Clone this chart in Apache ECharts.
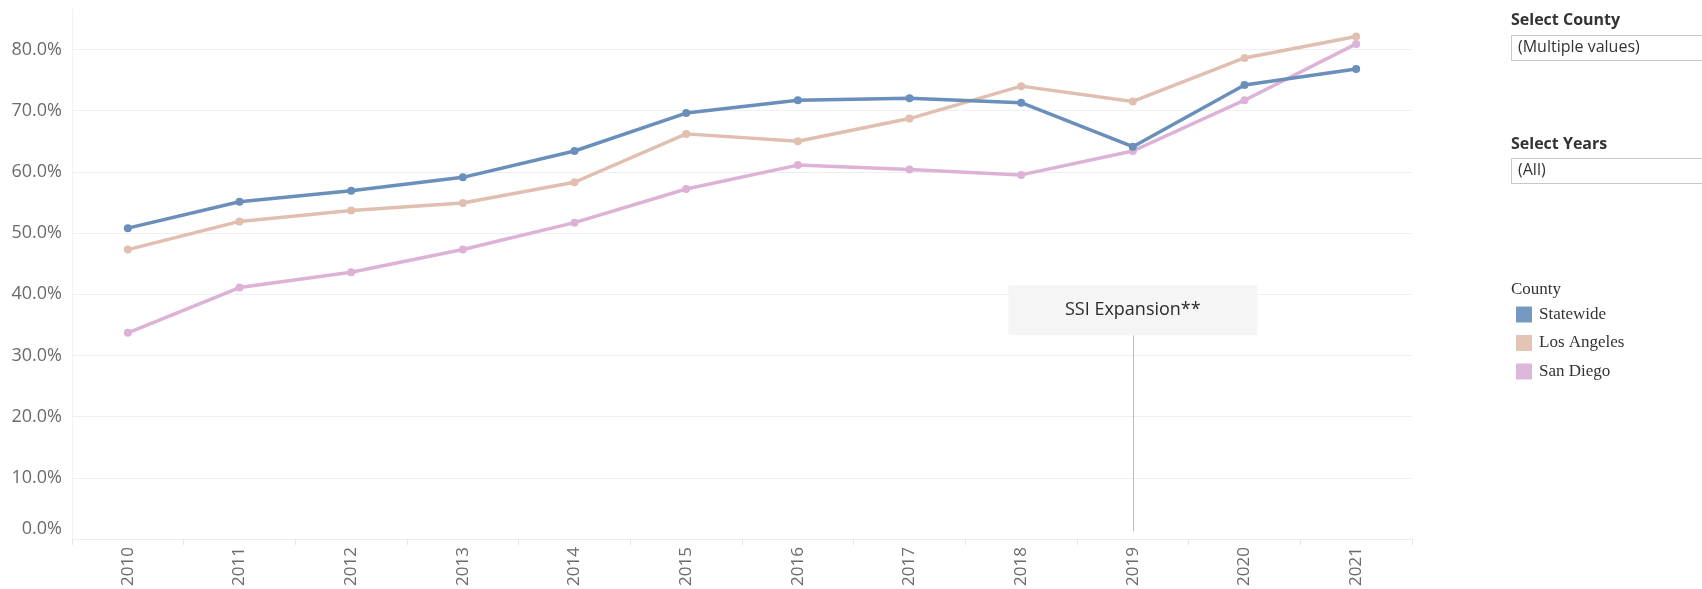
<!DOCTYPE html>
<html>
<head>
<meta charset="utf-8">
<script src="https://cdn.jsdelivr.net/npm/echarts@6/dist/echarts.min.js"></script>
<style>html,body{margin:0;padding:0;background:#fff}#c{width:1702px;height:589px}</style>
</head>
<body>
<div id="c"></div>
<script>
var years = ['2010','2011','2012','2013','2014','2015','2016','2017','2018','2019','2020','2021'];
var statewide = [50.8, 55.1, 56.9, 59.1, 63.4, 69.6, 71.7, 72.0, 71.3, 64.1, 74.2, 76.8];
var losAngeles = [47.3, 51.9, 53.7, 54.9, 58.3, 66.2, 65.0, 68.7, 74.0, 71.5, 78.6, 82.1];
var sanDiego = [33.7, 41.1, 43.6, 47.3, 51.7, 57.2, 61.1, 60.4, 59.5, 63.4, 71.7, 80.9];
var seriesNames = ['Statewide', 'Los Angeles', 'San Diego'];
var yTicks = [0, 10, 20, 30, 40, 50, 60, 70, 80];
var annotationText = 'SSI Expansion**';
var annotationYear = '2019';

var lineColors = ['#6a8fbb', '#e0bfb0', '#dcb2d6'];
var legendColors = ['#7599c0', '#e3c5b6', '#dcb8da'];
var sansFont = '"Open Sans", "Noto Sans", sans-serif';
var serifFont = '"Liberation Serif", "DejaVu Serif", serif';

var chart = echarts.init(document.getElementById('c'));

function mkSeries(name, data, i, extra) {
  var s = {
    name: name, type: 'line', data: data,
    symbol: 'circle', symbolSize: 8,
    lineStyle: { width: 3.5, color: lineColors[i] },
    itemStyle: { color: lineColors[i] },
    z: 10 - i
  };
  if (extra) Object.assign(s, extra);
  return s;
}

var gridColors = [];
for (var k = 0; k < 9; k++) gridColors.push('#efefef');
gridColors.push('rgba(0,0,0,0)');

var option = {
  animation: false,
  backgroundColor: '#ffffff',
  grid: { left: 72, right: 290, top: 9, bottom: 49 },
  legend: {
    orient: 'vertical', left: 1516, top: 306, padding: 0,
    itemWidth: 16, itemHeight: 16, itemGap: 11.5,
    icon: 'rect',
    data: seriesNames.map(function (n, i) { return { name: n, itemStyle: { color: legendColors[i] } }; }),
    textStyle: { fontFamily: serifFont, fontSize: 17, color: '#333', padding: [0, 0, 0, 2] }
  },
  xAxis: {
    type: 'category', data: years, boundaryGap: true,
    axisLine: { show: true, lineStyle: { color: '#eeeeee' } },
    axisTick: { show: true, alignWithLabel: false, length: 6, lineStyle: { color: '#e6e6e6' } },
    axisLabel: { rotate: 90, color: '#6b6b6b', fontFamily: sansFont, fontSize: 17, margin: 8 },
    splitLine: { show: false }
  },
  yAxis: {
    type: 'value', min: 0, max: 86.6, interval: 10,
    axisLine: { show: true, lineStyle: { color: '#f2f2f2' } },
    axisTick: { show: false },
    splitLine: { show: true, lineStyle: { color: gridColors, width: 1 } },
    axisLabel: {
      color: '#6b6b6b', fontFamily: sansFont, fontSize: 18, margin: 10,
      showMaxLabel: false,
      formatter: function (v) {
        if (yTicks.indexOf(v) < 0) return '';
        if (v === 0) return '{z|0.0%}';
        return v.toFixed(1) + '%';
      },
      rich: { z: { color: '#6b6b6b', fontFamily: sansFont, fontSize: 18, padding: [0, 0, 20, 0] } }
    }
  },
  series: [
    mkSeries(seriesNames[0], statewide, 0),
    mkSeries(seriesNames[1], losAngeles, 1),
    mkSeries(seriesNames[2], sanDiego, 2, {
      markLine: {
        silent: true, symbol: ['none', 'none'], animation: false,
        lineStyle: { color: '#bdbdbd', width: 1, type: 'solid' },
        label: { show: false },
        data: [[{ coord: [annotationYear, 1.3] }, { coord: [annotationYear, 33.3] }]]
      },
      markPoint: {
        silent: true, animation: false,
        symbol: 'rect', symbolSize: [249, 50],
        itemStyle: { color: '#f5f5f5' },
        label: { show: true, formatter: annotationText, color: '#2b2b2b', fontFamily: sansFont, fontSize: 18, fontWeight: 500 },
        data: [{ coord: [annotationYear, 37.4] }]
      }
    })
  ],
  graphic: [
    { type: 'text', left: 1511, top: 12, style: { text: 'Select County', fill: '#333', font: 'bold 16px ' + sansFont } },
    { type: 'rect', shape: { x: 1511.5, y: 35.5, width: 320, height: 25 }, style: { fill: '#fff', stroke: '#c8c8c8', lineWidth: 1 } },
    { type: 'text', left: 1518, top: 39, style: { text: '(Multiple values)', fill: '#333', font: '16px ' + sansFont } },
    { type: 'text', left: 1511, top: 136, style: { text: 'Select Years', fill: '#333', font: 'bold 16px ' + sansFont } },
    { type: 'rect', shape: { x: 1511.5, y: 158.5, width: 320, height: 25 }, style: { fill: '#fff', stroke: '#c8c8c8', lineWidth: 1 } },
    { type: 'text', left: 1518, top: 162, style: { text: '(All)', fill: '#333', font: '16px ' + sansFont } },
    { type: 'text', left: 1511, top: 281, style: { text: 'County', fill: '#333', font: '17px ' + serifFont } }
  ]
};
chart.setOption(option);
</script>
</body>
</html>
